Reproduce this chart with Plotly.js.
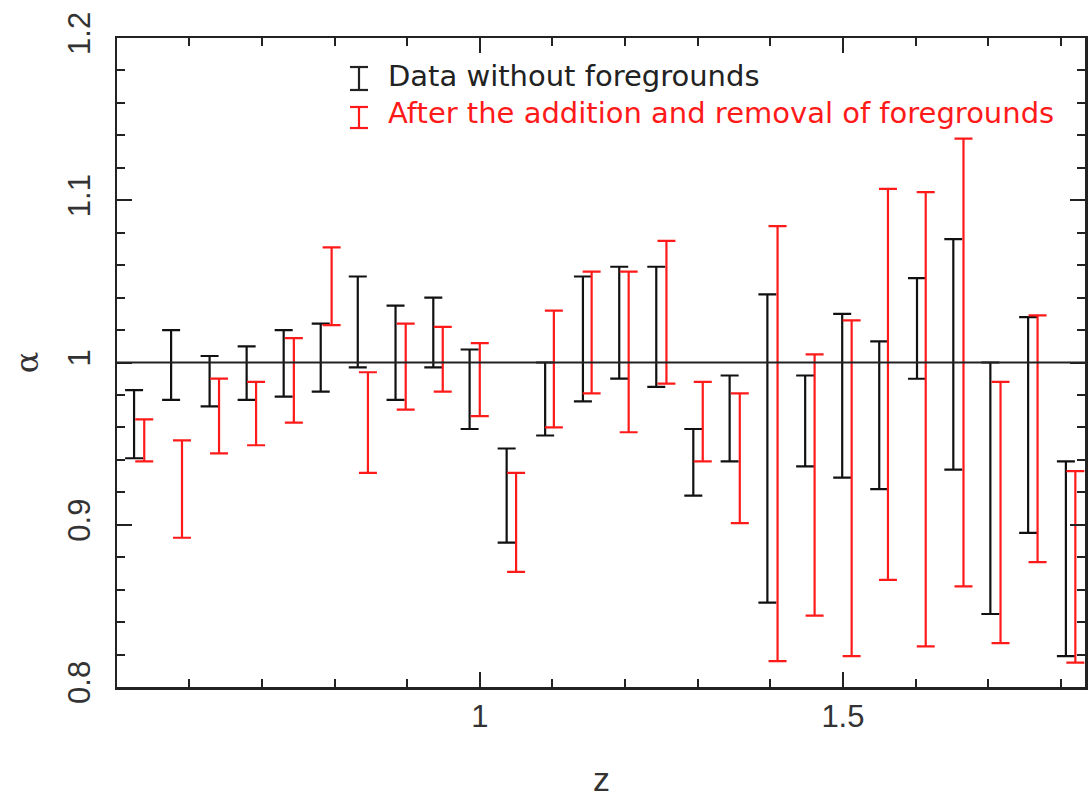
<!DOCTYPE html>
<html>
<head>
<meta charset="utf-8">
<script src="https://cdn.plot.ly/plotly-3.0.1.min.js"></script>
<style>
  html, body { margin: 0; padding: 0; background: #fff; }
  #chart { width: 1088px; height: 801px; }
</style>
</head>
<body>
<div id="chart"></div>
<script>
// ---- Data ----
const seriesNames = ["Data without foregrounds", "After the addition and removal of foregrounds"];
const xTitle = "z";
const yTitle = "α";

// Black series: data without foregrounds
const zBlack = [0.524, 0.575, 0.628, 0.679, 0.730, 0.781, 0.832, 0.884, 0.936, 0.986,
                1.037, 1.090, 1.142, 1.192, 1.243, 1.294, 1.344, 1.396, 1.448, 1.499,
                1.550, 1.602, 1.652, 1.703, 1.755, 1.807];
const alphaBlackHi = [0.983, 1.020, 1.004, 1.010, 1.020, 1.024, 1.053, 1.035, 1.040, 1.008,
                      0.947, 1.000, 1.053, 1.059, 1.059, 0.959, 0.992, 1.042, 0.992, 1.030,
                      1.013, 1.052, 1.076, 1.000, 1.028, 0.939];
const alphaBlackLo = [0.941, 0.977, 0.973, 0.977, 0.979, 0.982, 0.997, 0.977, 0.997, 0.959,
                      0.889, 0.955, 0.976, 0.990, 0.985, 0.918, 0.939, 0.852, 0.936, 0.929,
                      0.922, 0.990, 0.934, 0.845, 0.895, 0.819];

// Red series: after the addition and removal of foregrounds
const zRed = [0.538, 0.590, 0.641, 0.692, 0.744, 0.796, 0.846, 0.898, 0.949, 1.000,
              1.050, 1.102, 1.154, 1.205, 1.257, 1.307, 1.358, 1.410, 1.461, 1.512,
              1.562, 1.614, 1.666, 1.717, 1.768, 1.820];
const alphaRedHi = [0.965, 0.952, 0.990, 0.988, 1.015, 1.071, 0.994, 1.024, 1.022, 1.012,
                    0.932, 1.032, 1.056, 1.056, 1.075, 0.988, 0.981, 1.084, 1.005, 1.026,
                    1.107, 1.105, 1.138, 0.988, 1.029, 0.933];
const alphaRedLo = [0.939, 0.892, 0.944, 0.949, 0.963, 1.023, 0.932, 0.971, 0.982, 0.967,
                    0.871, 0.960, 0.981, 0.957, 0.987, 0.939, 0.901, 0.816, 0.844, 0.819,
                    0.866, 0.825, 0.862, 0.827, 0.877, 0.815];

const referenceAlpha = 1;

// ---- Styles ----
const BLACK = "#111111";
const RED = "#ff1a1a";
const AXIS = "#222222";

function errTrace(x, lo, hi, color, name) {
  const mid = lo.map((v, i) => (v + hi[i]) / 2);
  const half = lo.map((v, i) => (hi[i] - v) / 2);
  return {
    type: "scatter",
    mode: "markers",
    name: name,
    x: x,
    y: mid,
    marker: { size: 1, opacity: 0, color: color },
    error_y: { type: "data", array: half, symmetric: true, color: color, thickness: 2.2, width: 9 },
    showlegend: false,
    hoverinfo: "skip"
  };
}

const traces = [
  errTrace(zBlack, alphaBlackLo, alphaBlackHi, BLACK, seriesNames[0]),
  errTrace(zRed, alphaRedLo, alphaRedHi, RED, seriesNames[1])
];

// legend geometry in paper units
const legX = 0.25, legCap = 0.0093, legTextX = 0.278;
const legRows = [
  { top: 0.9553, bot: 0.9199, textY: 0.941, color: "#222", text: seriesNames[0] },
  { top: 0.8937, bot: 0.8613, textY: 0.884, color: RED, text: seriesNames[1] }
];

const shapes = [
  { type: "line", xref: "paper", x0: 0, x1: 1, yref: "y", y0: referenceAlpha, y1: referenceAlpha,
    line: { color: AXIS, width: 2 } }
];
const annotations = [];
legRows.forEach(r => {
  shapes.push({ type: "line", xref: "paper", yref: "paper", x0: legX, x1: legX, y0: r.bot, y1: r.top, line: { color: r.color, width: 2.2 } });
  shapes.push({ type: "line", xref: "paper", yref: "paper", x0: legX - legCap, x1: legX + legCap, y0: r.top, y1: r.top, line: { color: r.color, width: 2.2 } });
  shapes.push({ type: "line", xref: "paper", yref: "paper", x0: legX - legCap, x1: legX + legCap, y0: r.bot, y1: r.bot, line: { color: r.color, width: 2.2 } });
  annotations.push({
    xref: "paper", yref: "paper", x: legTextX, y: r.textY, xanchor: "left", yanchor: "middle",
    text: r.text, showarrow: false, font: { family: "DejaVu Sans", size: 29, color: r.color }
  });
});
// x-axis title placed low, as in the reference
annotations.push({
  xref: "paper", yref: "paper", x: 0.5, y: -0.172, xanchor: "center", yanchor: "bottom",
  text: xTitle, showarrow: false, borderpad: 0,
  font: { family: "Liberation Sans, Arial, sans-serif", size: 34, color: "#333" }
});

const tickFont = { family: "Liberation Sans, Arial, sans-serif", size: 31, color: "#333" };

const layout = {
  width: 1088,
  height: 801,
  margin: { l: 117, r: 3, t: 38, b: 114 },
  paper_bgcolor: "#fff",
  plot_bgcolor: "#fff",
  showlegend: false,
  xaxis: {
    range: [0.5005, 1.8333],
    tick0: 0, dtick: 0.5,
    ticks: "inside", ticklen: 15, tickwidth: 2, tickcolor: AXIS,
    minor: { dtick: 0.1, tick0: 0, ticks: "inside", ticklen: 8, tickwidth: 2, tickcolor: AXIS },
    showline: true, linewidth: 2.5, linecolor: AXIS, mirror: "ticks",
    showgrid: false, zeroline: false,
    tickfont: tickFont
  },
  yaxis: {
    range: [0.8, 1.2],
    tick0: 0, dtick: 0.1,
    ticks: "inside", ticklen: 15, tickwidth: 2, tickcolor: AXIS,
    minor: { dtick: 0.02, tick0: 0, ticks: "inside", ticklen: 8, tickwidth: 2, tickcolor: AXIS },
    showline: true, linewidth: 2.5, linecolor: AXIS, mirror: "ticks",
    showgrid: false, zeroline: false,
    tickangle: -90,
    ticklabelstandoff: 12,
    tickfont: tickFont,
    title: { text: yTitle, font: { family: "DejaVu Serif, serif", size: 32, color: "#333" }, standoff: 14 }
  },
  shapes: shapes,
  annotations: annotations
};

Plotly.newPlot("chart", traces, layout, { staticPlot: true, displayModeBar: false });
</script>
</body>
</html>
